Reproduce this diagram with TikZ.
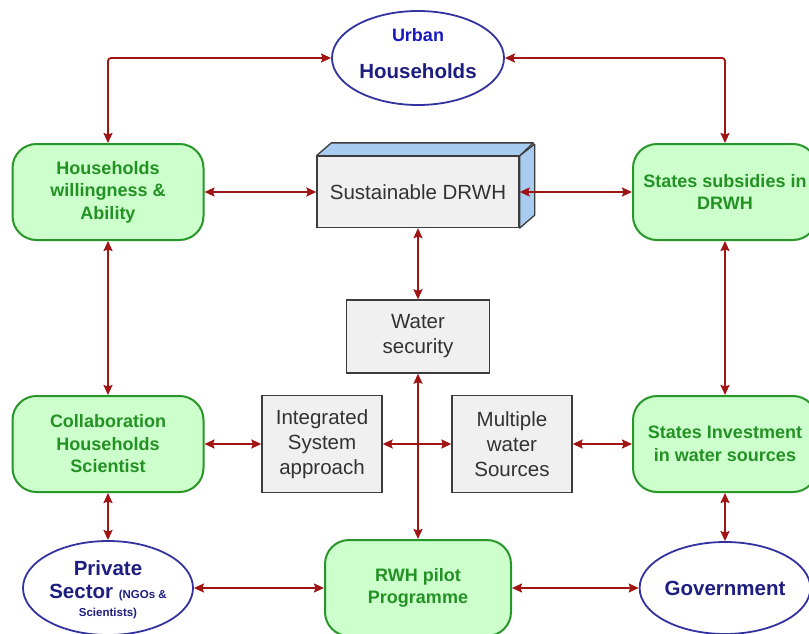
\documentclass[tikz,border=0pt]{standalone}
\usepackage{fontspec}
\setmainfont{Liberation Sans}
\usetikzlibrary{arrows.meta,shapes.geometric}
\definecolor{gfill}{RGB}{204,255,204}
\definecolor{gline}{RGB}{40,150,40}
\definecolor{gtext}{RGB}{35,145,35}
\definecolor{bline}{RGB}{50,50,160}
\definecolor{btext}{RGB}{30,30,130}
\definecolor{utext}{RGB}{25,25,190}
\definecolor{rline}{RGB}{160,20,20}
\definecolor{grfill}{RGB}{240,240,240}
\definecolor{grline}{RGB}{60,60,60}
\definecolor{grtext}{RGB}{50,50,50}
\definecolor{sidefill}{RGB}{168,204,240}
\begin{document}
\begin{tikzpicture}[x=1pt,y=-1pt,
 greenbox/.style={draw=gline,fill=gfill,line width=2pt,rounded corners=24pt,text=gtext,
   font=\fontsize{18}{22.5}\selectfont\bfseries,align=center,inner sep=0pt},
 graybox/.style={draw=grline,fill=grfill,line width=1.3pt,font=\fontsize{20.5}{25}\selectfont,
   text=grtext,align=center,inner sep=0pt},
 blueell/.style={draw=bline,fill=white,ellipse,line width=1.8pt,inner sep=0pt},
 btxt/.style={text=btext,font=\fontsize{20.5}{24}\selectfont\bfseries,inner sep=0pt},
 stxt/.style={text=btext,font=\fontsize{11.5}{14}\selectfont\bfseries,inner sep=0pt},
 link/.style={draw=rline,line width=1.8pt,
   {Stealth[length=10pt,width=9pt,inset=1.5pt]}-{Stealth[length=10pt,width=9pt,inset=1.5pt]}},
]
\useasboundingbox (0,0) rectangle (809,634);
\begin{scope}
\clip (0,0) rectangle (809,634);
% ellipses
\node[blueell,minimum width=172pt,minimum height=94pt] (uh) at (418,58) {};
\node[anchor=base,text=utext,font=\fontsize{18}{20}\selectfont\bfseries,inner sep=0pt] (uhA) at (418,42) {Urban};
\node[btxt,anchor=base] (uhB) at (418,78) {Households};
\node[blueell,minimum width=170pt,minimum height=94pt] (ps) at (108,588) {};
\node[btxt,anchor=base] (psA) at (108,575) {Private};
\node[btxt,anchor=base] (psB) at (108,598) {Sector {\fontsize{11.5}{14}\selectfont(NGOs \&}};
\node[stxt,anchor=base] (psC) at (108,616) {Scientists)};
\node[blueell,btxt,minimum width=166pt,minimum height=92pt] (gov) at (725,588) {Government};
% green boxes
\node[greenbox,minimum width=191pt,minimum height=96pt] (hw) at (108,192) {Households\\willingness \&\\Ability};
\node[greenbox,minimum width=191pt,minimum height=96pt] (co) at (108,444) {Collaboration\\Households\\Scientist};
\node[greenbox,minimum width=184pt,minimum height=96pt] (ss) at (725,192) {States subsidies in\\DRWH};
\node[greenbox,minimum width=184pt,minimum height=96pt] (si) at (725,444) {States Investment\\in water sources};
\node[greenbox,minimum width=186pt,minimum height=96pt] (rwh) at (418,588) {RWH pilot\\Programme};
% gray boxes
\node[graybox,minimum width=202pt,minimum height=71pt] (sus) at (418,192) {Sustainable DRWH};
\draw[draw=grline,fill=sidefill,line width=1.3pt,line join=round]
  (sus.north west) -- ++(15,-13) -- ++(202,0) -- (sus.north east) -- cycle;
\draw[draw=grline,fill=sidefill,line width=1.3pt,line join=round]
  (sus.south east) -- ++(15,-13) -- ++(0,-71) -- (sus.north east) -- cycle;
\node[graybox,minimum width=143pt,minimum height=73pt] (ws) at (418,336.5) {Water\\security};
\node[graybox,minimum width=120pt,minimum height=97pt] (isa) at (322,444) {Integrated\\System\\approach};
\node[graybox,minimum width=120pt,minimum height=97pt] (mws) at (512,444) {Multiple\\water\\Sources};
% links
\draw[link,rounded corners=3pt] (uh.west) -| (hw.north);
\draw[link,rounded corners=3pt] (uh.east) -| (ss.north);
\draw[link] (hw.east) -- (sus.west);
\draw[link] (sus.east) -- (ss.west);
\draw[link] (sus.south) -- (ws.north);
\draw[link] (ws.south) -- (rwh.north);
\draw[link] (co.east) -- (isa.west);
\draw[link] (isa.east) -- (mws.west);
\draw[link] (mws.east) -- (si.west);
\draw[link] (hw.south) -- (co.north);
\draw[link] (ss.south) -- (si.north);
\draw[link] (co.south) -- (ps.north);
\draw[link] (si.south) -- (gov.north);
\draw[link] (ps.east) -- (rwh.west);
\draw[link] (rwh.east) -- (gov.west);
\end{scope}
\end{tikzpicture}
\end{document}
